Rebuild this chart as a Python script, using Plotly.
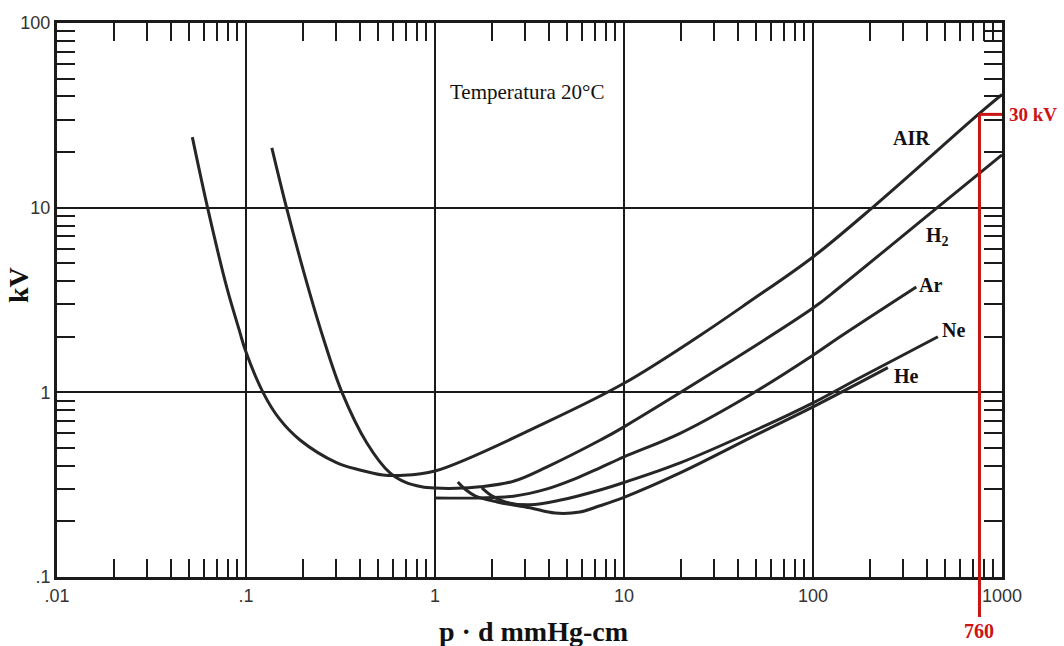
import math
import plotly.graph_objects as go

# ---- data (pd in mmHg-cm, breakdown voltage in kV) ----
air_pd = [0.052, 0.063, 0.079, 0.093, 0.099, 0.123, 0.15, 0.193, 0.303, 0.40, 0.53, 0.65, 1.0, 3.9, 10, 25, 46, 100, 213, 765, 1000]
air_kv = [24.1, 9.72, 3.72, 2.10, 1.70, 1.0, 0.72, 0.552, 0.415, 0.38, 0.357, 0.355, 0.375, 0.69, 1.12, 2.02, 3.09, 5.41, 10.3, 32.6, 41.0]

h2_pd = [0.137, 0.165, 0.210, 0.255, 0.322, 0.436, 0.578, 0.70, 0.85, 1.0, 1.3, 1.73, 2.6, 3.92, 7.46, 10, 100, 139, 470, 1000]
h2_kv = [21.1, 9.72, 3.9, 2.0, 1.0, 0.532, 0.366, 0.325, 0.308, 0.303, 0.302, 0.308, 0.33, 0.395, 0.55, 0.650, 2.86, 3.72, 10.3, 19.3]

ar_pd = [1.0, 1.73, 2.6, 3.92, 5.5, 7.46, 10, 19.8, 46.4, 100, 139, 352]
ar_kv = [0.268, 0.268, 0.274, 0.30, 0.34, 0.390, 0.447, 0.60, 0.968, 1.59, 2.0, 3.72]

ne_pd = [1.77, 2.0, 2.35, 3.18, 4.63, 7.46, 10, 19.8, 52.5, 100, 177, 458]
ne_kv = [0.304, 0.275, 0.255, 0.246, 0.261, 0.296, 0.325, 0.415, 0.641, 0.877, 1.20, 2.0]

he_pd = [1.32, 1.46, 1.63, 2.13, 3.18, 4.31, 5.85, 7.46, 10, 19.8, 52.5, 100, 249]
he_kv = [0.327, 0.296, 0.275, 0.255, 0.237, 0.222, 0.225, 0.243, 0.27, 0.366, 0.603, 0.834, 1.36]

gas_names = ["AIR", "H<sub>2</sub>", "Ar", "Ne", "He"]
label_pd = [330, 455, 421, 557, 314]
label_kv = [23.8, 6.94, 3.82, 2.18, 1.23]

x_tickvals = [0.01, 0.1, 1, 10, 100, 1000]
x_ticktext = [".01", ".1", "1", "10", "100", "1000"]
y_tickvals = [0.1, 1, 10, 100]
y_ticktext = [".1", "1", "10", "100"]

atm_pd = 760       # mmHg-cm
atm_kv = 32        # level of the red marker (labelled 30 kV)
atm_label = "30 kV"
atm_pd_label = "760"
title_note = "Temperatura 20°C"

X_RANGE = (-2, 3)
Y_RANGE = (-1, 2)

curve_color = "#262626"
red = "#cc1414"

fig = go.Figure()
for xs, ys in [(air_pd, air_kv), (h2_pd, h2_kv), (ar_pd, ar_kv), (ne_pd, ne_kv), (he_pd, he_kv)]:
    fig.add_trace(go.Scatter(x=xs, y=ys, mode="lines",
                             line=dict(color=curve_color, width=3, shape="spline", smoothing=1.0),
                             showlegend=False, hoverinfo="skip"))

x_minor = [k * 10 ** e for e in range(-2, 3) for k in range(2, 10)]
y_minor = [k * 10 ** e for e in range(-1, 2) for k in range(2, 10)]

axis_common = dict(
    type="log", showline=True, linecolor="#1a1a1a", linewidth=3, mirror="allticks",
    showgrid=True, gridcolor="#1a1a1a", gridwidth=2, ticks="", zeroline=False,
    tickfont=dict(family="Liberation Sans", size=18, color="#333333"),
)
fig.update_xaxes(range=list(X_RANGE), tickvals=x_tickvals, ticktext=x_ticktext,
                 minor=dict(tickvals=x_minor, ticks="inside", ticklen=18, tickwidth=2,
                            tickcolor="#1a1a1a", showgrid=False),
                 **axis_common)
fig.update_yaxes(range=list(Y_RANGE), tickvals=y_tickvals, ticktext=y_ticktext,
                 minor=dict(tickvals=y_minor, ticks="inside", ticklen=18, tickwidth=2,
                            tickcolor="#1a1a1a", showgrid=False),
                 **axis_common)

def px_(v):
    return (math.log10(v) - X_RANGE[0]) / (X_RANGE[1] - X_RANGE[0])

def py_(v):
    return (math.log10(v) - Y_RANGE[0]) / (Y_RANGE[1] - Y_RANGE[0])

# red 760 / 30 kV marker
fig.add_shape(type="line", xref="paper", yref="paper",
              x0=px_(atm_pd), x1=px_(atm_pd), y0=py_(atm_kv), y1=-0.072,
              line=dict(color=red, width=3))
fig.add_shape(type="line", xref="paper", yref="paper",
              x0=px_(atm_pd), x1=1.0, y0=py_(atm_kv), y1=py_(atm_kv),
              line=dict(color=red, width=3))

ann = []
for name, lx, ly in zip(gas_names, label_pd, label_kv):
    ann.append(dict(x=math.log10(lx), y=math.log10(ly), xref="x", yref="y", text="<b>" + name + "</b>",
                    showarrow=False, font=dict(family="Liberation Serif", size=20, color="#111111"),
                    xanchor="center", yanchor="middle"))
ann.append(dict(x=0.497, y=0.875, xref="paper", yref="paper", text=title_note, showarrow=False,
                xanchor="center", yanchor="middle",
                font=dict(family="Liberation Serif", size=21, color="#111111")))
ann.append(dict(x=1.0, y=py_(atm_kv), xref="paper", yref="paper", text="<b>" + atm_label + "</b>",
                showarrow=False, xanchor="left", yanchor="middle", xshift=5,
                font=dict(family="Liberation Serif", size=19, color=red)))
ann.append(dict(x=px_(atm_pd), y=-0.0975, xref="paper", yref="paper", text="<b>" + atm_pd_label + "</b>",
                showarrow=False, xanchor="center", yanchor="middle",
                font=dict(family="Liberation Serif", size=20, color=red)))
ann.append(dict(x=0, y=0.527, xref="paper", yref="paper", text="<b>kV</b>", textangle=-90,
                showarrow=False, xanchor="center", yanchor="middle", xshift=-39,
                font=dict(family="Liberation Serif", size=28, color="#111111")))
ann.append(dict(x=0.504, y=-0.099, xref="paper", yref="paper", text="<b>p · d mmHg-cm</b>",
                showarrow=False, xanchor="center", yanchor="middle",
                font=dict(family="Liberation Serif", size=28, color="#111111")))

fig.update_layout(width=1064, height=646, autosize=False,
                  margin=dict(l=57, r=62, t=23, b=69),
                  plot_bgcolor="white", paper_bgcolor="white",
                  annotations=ann, showlegend=False)

fig.write_html("out.html", config={"displayModeBar": False},
               post_script="document.body.style.margin='0';document.body.style.padding='0';")
